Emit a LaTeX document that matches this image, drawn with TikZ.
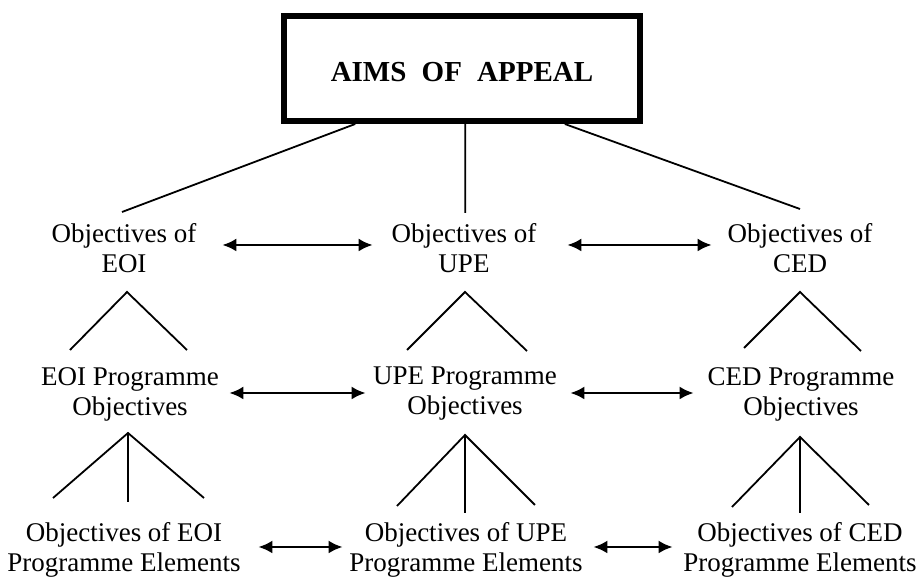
\documentclass[tikz,border=0pt]{standalone}
\usepackage{fontspec}
\setmainfont{Liberation Serif}
\usetikzlibrary{arrows.meta,calc}
\begin{document}
\begin{tikzpicture}[x=0.5pt,y=-0.5pt,
  lbl/.style={align=center,inner sep=0pt,font=\fontsize{13.5pt}{15pt}\selectfont},
  thinline/.style={line width=0.9pt},
  dbl/.style={line width=1.2pt,{Latex[length=7pt,width=6.5pt]}-{Latex[length=7pt,width=6.5pt]}},
  aimsbox/.style={draw,line width=3pt,minimum width=178pt,minimum height=52.5pt,inner sep=0pt,font=\fontsize{14.5pt}{17pt}\selectfont\bfseries}]

\useasboundingbox (0,0) rectangle (918,577);

% nodes
\node[aimsbox] (aims) at (462,68.5) {\raisebox{-6.6pt}[0pt][0pt]{AIMS\hspace{4pt} OF\hspace{4pt} APPEAL}};

\node[lbl] (eoi1) at (124,248) {Objectives of\\EOI};
\node[lbl] (upe1) at (464,248) {Objectives of\\UPE};
\node[lbl] (ced1) at (800,248) {Objectives of\\CED};

\node[lbl] (eoi2) at (130,394) {EOI Programme\\Objectives};
\node[lbl] (upe2) at (465,394) {UPE Programme\\Objectives};
\node[lbl] (ced2) at (801,394) {CED Programme\\Objectives};

\node[lbl] (eoi3) at (124,550) {Objectives of EOI\\Programme Elements};
\node[lbl] (upe3) at (466,550) {Objectives of UPE\\Programme Elements};
\node[lbl] (ced3) at (800,550) {Objectives of CED\\Programme Elements};

% top lines
\coordinate (t1) at (122,212);
\coordinate (t2) at (465.3,213);
\coordinate (t3) at (800,209);
\draw[thinline] ($(aims.south west)!0.205!(aims.south east)$) -- (t1);
\draw[thinline] ($(aims.south west)!0.509!(aims.south east)$) -- (t2);
\draw[thinline] ($(aims.south west)!0.784!(aims.south east)$) -- (t3);

% upper triangles
\coordinate (a1) at (127,292); \coordinate (a1l) at (70,350); \coordinate (a1r) at (187,350);
\coordinate (a2) at (465,292); \coordinate (a2l) at (407,350); \coordinate (a2r) at (527,351);
\coordinate (a3) at (800,292); \coordinate (a3l) at (744,348); \coordinate (a3r) at (861,351);
\draw[thinline] (a1l) -- (a1) -- (a1r);
\draw[thinline] (a2l) -- (a2) -- (a2r);
\draw[thinline] (a3l) -- (a3) -- (a3r);

% lower triangles
\coordinate (b1) at (128,433); \coordinate (b1l) at (53,498); \coordinate (b1m) at (128,502); \coordinate (b1r) at (204,498);
\coordinate (b2) at (465,435); \coordinate (b2l) at (397,506); \coordinate (b2m) at (465,513); \coordinate (b2r) at (535,505);
\coordinate (b3) at (800,437); \coordinate (b3l) at (732,507); \coordinate (b3m) at (800,513); \coordinate (b3r) at (869,505);
\draw[thinline] (b1l) -- (b1) -- (b1r); \draw[thinline] (b1) -- (b1m);
\draw[thinline] (b2l) -- (b2) -- (b2r); \draw[thinline] (b2) -- (b2m);
\draw[thinline] (b3l) -- (b3) -- (b3r); \draw[thinline] (b3) -- (b3m);

% arrows
\draw[dbl] ([xshift=12.8pt,yshift=1.5pt]eoi1.east) -- ([xshift=-9.3pt,yshift=1.5pt]upe1.west);
\draw[dbl] ([xshift=15.3pt,yshift=1.5pt]upe1.east) -- ([xshift=-7.8pt,yshift=1.5pt]ced1.west);
\draw[dbl] ([xshift=5.05pt,yshift=0.5pt]eoi2.east) -- ([xshift=-3.55pt,yshift=0.5pt]upe2.west);
\draw[dbl] ([xshift=6.55pt,yshift=0.5pt]upe2.east) -- ([xshift=-6.8pt,yshift=0.5pt]ced2.west);
\draw[dbl] ([xshift=8.7pt,yshift=1.5pt]eoi3.east) -- ([xshift=-3.2pt,yshift=1.5pt]upe3.west);
\draw[dbl] ([xshift=5.2pt,yshift=1.5pt]upe3.east) -- ([xshift=-5.2pt,yshift=1.5pt]ced3.west);
\end{tikzpicture}
\end{document}
